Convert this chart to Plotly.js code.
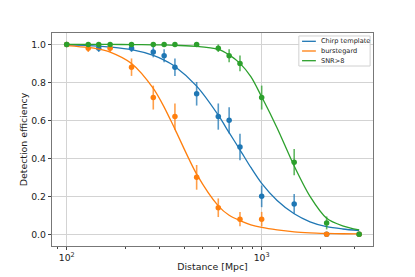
<!DOCTYPE html>
<html>
<head>
<meta charset="utf-8">
<script src="https://cdn.plot.ly/plotly-3.0.1.min.js"></script>
<style>html,body{margin:0;padding:0;background:#fff;}#chart{width:415px;height:277px;}</style>
</head>
<body>
<div id="chart"></div>
<script>
// Measured detection efficiencies
const seriesNames = ['Chirp template', 'burstegard', 'SNR>8'];

const chirpDist = [100, 146, 215, 278, 316, 359, 464, 599, 681, 774, 1000, 1468, 2154, 3162];
const chirpEff  = [1.0, 0.98, 0.98, 0.96, 0.94, 0.88, 0.74, 0.62, 0.60, 0.46, 0.20, 0.16, 0.0, 0.0];
const chirpErr  = [0, 0.02, 0.02, 0.028, 0.034, 0.046, 0.062, 0.069, 0.069, 0.07, 0.057, 0.052, 0, 0];

const burstDist = [100, 129, 167, 215, 278, 359, 464, 599, 774, 1000, 2154, 3162];
const burstEff  = [1.0, 0.98, 0.98, 0.88, 0.72, 0.62, 0.30, 0.14, 0.08, 0.08, 0.0, 0.0];
const burstErr  = [0, 0.02, 0.02, 0.046, 0.063, 0.069, 0.065, 0.049, 0.038, 0.038, 0, 0];

const snrDist = [100, 129, 146, 167, 215, 278, 316, 359, 464, 599, 681, 774, 1000, 1468, 2154, 3162];
const snrEff  = [1, 1, 1, 1, 1, 1, 1, 1, 1, 0.98, 0.94, 0.90, 0.72, 0.38, 0.06, 0.0];
const snrErr  = [0, 0, 0, 0, 0, 0, 0, 0, 0, 0.02, 0.034, 0.042, 0.063, 0.069, 0.034, 0];

// Fitted efficiency curves
const fitDist  = [100, 129, 146, 167, 215, 278, 316, 359, 464, 599, 681, 774, 880, 1000, 1200, 1468, 1770, 2154, 2600, 3162];
const chirpFit = [0.997, 0.994, 0.991, 0.986, 0.972, 0.942, 0.917, 0.884, 0.780, 0.627, 0.535, 0.445, 0.352, 0.268, 0.178, 0.108, 0.066, 0.040, 0.028, 0.020];
const burstFit = [0.994, 0.984, 0.975, 0.959, 0.899, 0.768, 0.670, 0.554, 0.317, 0.150, 0.100, 0.072, 0.050, 0.036, 0.023, 0.013, 0.008, 0.005, 0.003, 0.002];
const snrFit   = [1.0, 1.0, 1.0, 1.0, 0.999, 0.998, 0.997, 0.995, 0.990, 0.974, 0.945, 0.900, 0.830, 0.724, 0.560, 0.360, 0.200, 0.085, 0.045, 0.023];

const xTickVals = [100, 1000];
const xTickText = ['10<sup>2</sup>', '10<sup>3</sup>'];
const xMinorTickVals = [90, 200, 300, 400, 500, 600, 700, 800, 900, 2000, 3000];
const yTickVals = [0.0, 0.2, 0.4, 0.6, 0.8, 1.0];

const colors = ['#1f77b4', '#ff7f0e', '#2ca02c'];
const errColors = ['rgba(31,119,180,0.75)', 'rgba(255,127,14,0.75)', 'rgba(44,160,44,0.75)'];

const groups = [
  {d: chirpDist, e: chirpEff, er: chirpErr, f: chirpFit},
  {d: burstDist, e: burstEff, er: burstErr, f: burstFit},
  {d: snrDist, e: snrEff, er: snrErr, f: snrFit}
];

const traces = [];
groups.forEach((g, i) => {
  traces.push({
    x: fitDist, y: g.f, type: 'scatter', mode: 'lines', name: seriesNames[i],
    line: {color: colors[i], width: 1.3, shape: 'spline', smoothing: 0.8},
    showlegend: false, hoverinfo: 'skip'
  });
  traces.push({
    x: g.d, y: g.e, type: 'scatter', mode: 'markers', name: seriesNames[i],
    marker: {color: colors[i], size: 5.5},
    error_y: {type: 'data', array: g.er, visible: true, color: errColors[i], thickness: 1.6, width: 0},
    showlegend: false
  });
});

// Compact legend box (matplotlib style), drawn in paper coordinates
const legBox = {x0: 0.769, x1: 0.991, y0: 0.845, y1: 0.986};
const legRowY = [0.961, 0.9155, 0.870];
const legLineX = [0.779, 0.822];
const legTextX = 0.832;

const shapes = [{
  type: 'rect', xref: 'paper', yref: 'paper',
  x0: legBox.x0, x1: legBox.x1, y0: legBox.y0, y1: legBox.y1,
  line: {color: '#d0d0d0', width: 1}, fillcolor: 'rgba(255,255,255,0.85)', layer: 'above'
}];
const annotations = [];
seriesNames.forEach((name, i) => {
  shapes.push({
    type: 'line', xref: 'paper', yref: 'paper',
    x0: legLineX[0], x1: legLineX[1], y0: legRowY[i], y1: legRowY[i],
    line: {color: colors[i], width: 1.3}, layer: 'above'
  });
  annotations.push({
    xref: 'paper', yref: 'paper', x: legTextX, y: legRowY[i],
    xanchor: 'left', yanchor: 'middle', showarrow: false,
    text: name, font: {family: 'DejaVu Sans', size: 6.6, color: '#222'}
  });
});

const layout = {
  width: 415, height: 277,
  margin: {l: 52, r: 42, t: 33, b: 31},
  paper_bgcolor: '#fff', plot_bgcolor: '#fff',
  font: {family: 'DejaVu Sans', size: 9.3, color: '#222'},
  showlegend: false,
  shapes: shapes,
  annotations: annotations,
  xaxis: {
    type: 'log', range: [1.9246, 3.571],
    tickmode: 'array', tickvals: xTickVals, ticktext: xTickText,
    ticks: 'outside', ticklen: 3, tickcolor: '#444', tickwidth: 1,
    showgrid: true, gridcolor: '#d3d3d3', gridwidth: 1,
    showline: true, linecolor: '#777', linewidth: 1.2, mirror: true,
    zeroline: false,
    minor: {tickmode: 'array', tickvals: xMinorTickVals, ticks: 'outside', ticklen: 2, tickcolor: '#444', showgrid: false},
    title: {text: 'Distance [Mpc]', font: {size: 9.4}, standoff: 1},
    tickfont: {size: 9.3}
  },
  yaxis: {
    range: [-0.0615, 1.06],
    tickmode: 'array', tickvals: yTickVals, tickformat: '.1f',
    ticks: 'outside', ticklen: 3, tickcolor: '#444', tickwidth: 1,
    showgrid: true, gridcolor: '#d3d3d3', gridwidth: 1,
    showline: true, linecolor: '#777', linewidth: 1.2, mirror: true,
    zeroline: false,
    title: {text: 'Detection efficiency', font: {size: 9.4}, standoff: 1},
    tickfont: {size: 9.3}
  }
};

Plotly.newPlot('chart', traces, layout, {displayModeBar: false, staticPlot: true});
</script>
</body>
</html>
